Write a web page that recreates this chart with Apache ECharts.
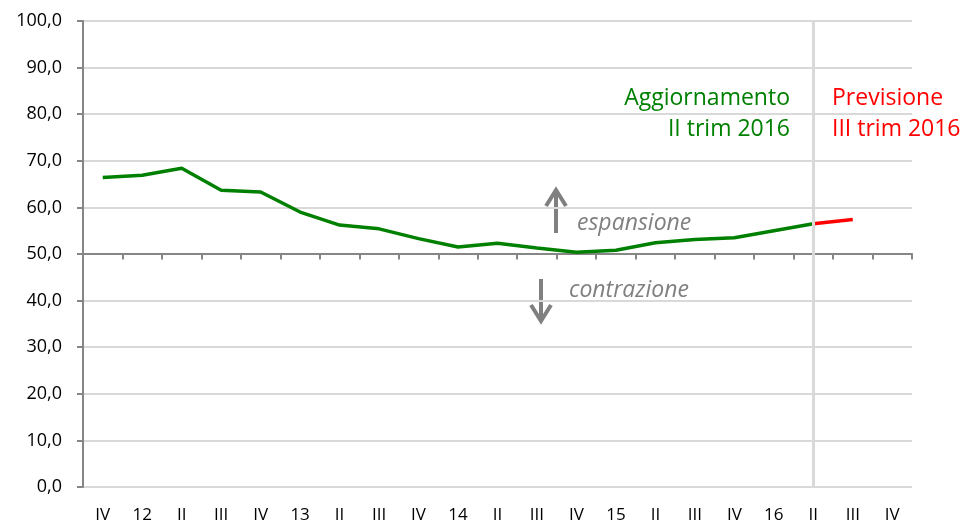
<!DOCTYPE html>
<html>
<head>
<meta charset="utf-8">
<script src="https://cdn.jsdelivr.net/npm/echarts@6/dist/echarts.min.js"></script>
<style>
  html, body { margin: 0; padding: 0; background: #fff; }
  #main { width: 967px; height: 524px; }
</style>
</head>
<body>
<div id="main"></div>
<script>
// trimestri (IV 2011 - IV 2016)
var categories = ['IV', '12', 'II', 'III', 'IV', '13', 'II', 'III', 'IV', '14', 'II', 'III', 'IV', '15', 'II', 'III', 'IV', '16', 'II', 'III', 'IV'];
// indice: aggiornamento II trim 2016
var aggiornamento = [66.4, 66.9, 68.4, 63.7, 63.3, 59.0, 56.2, 55.4, 53.3, 51.5, 52.3, 51.3, 50.4, 50.8, 52.4, 53.1, 53.5, 55.0, 56.5, null, null];
// previsione III trim 2016
var previsione = [null, null, null, null, null, null, null, null, null, null, null, null, null, null, null, null, null, null, 56.5, 57.4, null];
var yTicks = [0, 10, 20, 30, 40, 50, 60, 70, 80, 90, 100];

var FONT = "'Open Sans', 'Noto Sans', sans-serif";
var myChart = echarts.init(document.getElementById('main'));

var option = {
  animation: false,
  backgroundColor: '#fff',
  grid: { left: 83, right: 55, top: 21, bottom: 36 },
  xAxis: [{
    type: 'category',
    data: categories,
    boundaryGap: true,
    axisLine: { show: false },
    axisTick: { show: false },
    axisLabel: { color: '#000', fontSize: 17, fontFamily: FONT, margin: 20 }
  }, {
    // asse a quota 50 con le tacche
    type: 'category',
    data: categories,
    position: 'bottom',
    offset: -233.5,
    boundaryGap: true,
    axisLine: { show: true, lineStyle: { color: '#868686', width: 2 } },
    axisTick: { show: true, length: 6, lineStyle: { color: '#868686', width: 2 } },
    axisLabel: { show: false }
  }],
  yAxis: {
    type: 'value',
    min: yTicks[0],
    max: yTicks[yTicks.length - 1],
    interval: 10,
    axisLine: { show: true, lineStyle: { color: '#868686', width: 2 } },
    axisTick: { show: true, length: 6, lineStyle: { color: '#868686', width: 2 } },
    axisLabel: {
      color: '#000', fontSize: 18, fontFamily: FONT, margin: 21,
      formatter: function (v) { return v.toFixed(1).replace('.', ','); }
    },
    splitLine: { show: true, lineStyle: { color: '#d9d9d9', width: 2 } }
  },
  series: [{
    name: 'Aggiornamento',
    type: 'line',
    data: aggiornamento,
    showSymbol: false,
    lineStyle: { color: '#008000', width: 3.5 },
    z: 3,
    markLine: {
      silent: true,
      symbol: 'none',
      label: { show: false },
      lineStyle: { color: '#d9d9d9', width: 3, type: 'solid' },
      data: [{ xAxis: 18 }]
    }
  }, {
    name: 'Previsione',
    type: 'line',
    data: previsione,
    showSymbol: false,
    lineStyle: { color: '#ff0000', width: 3.5 },
    z: 4
  }],
  graphic: [
    { type: 'text', right: 177, top: 83, style: { text: 'Aggiornamento\nII trim 2016', fill: '#008000', font: '23px ' + FONT, textAlign: 'right', lineHeight: 31 } },
    { type: 'text', left: 832, top: 83, style: { text: 'Previsione\nIII trim 2016', fill: '#ff0000', font: '23px ' + FONT, textAlign: 'left', lineHeight: 31 } },
    { type: 'text', left: 577, top: 212, style: { text: 'espansione', fill: '#808080', font: 'italic 23px ' + FONT } },
    { type: 'text', left: 569, top: 279, style: { text: 'contrazione', fill: '#808080', font: 'italic 23px ' + FONT } },
    { type: 'line', shape: { x1: 556, y1: 233, x2: 556, y2: 191 }, style: { stroke: '#808080', lineWidth: 4 } },
    { type: 'polyline', shape: { points: [[546, 206], [556, 190], [566, 206]] }, style: { stroke: '#808080', lineWidth: 4, fill: null } },
    { type: 'line', shape: { x1: 541, y1: 279, x2: 541, y2: 321 }, style: { stroke: '#808080', lineWidth: 4 } },
    { type: 'polyline', shape: { points: [[531, 305], [541, 321], [551, 305]] }, style: { stroke: '#808080', lineWidth: 4, fill: null } }
  ]
};

myChart.setOption(option);
window.onresize = myChart.resize;
</script>
</body>
</html>
